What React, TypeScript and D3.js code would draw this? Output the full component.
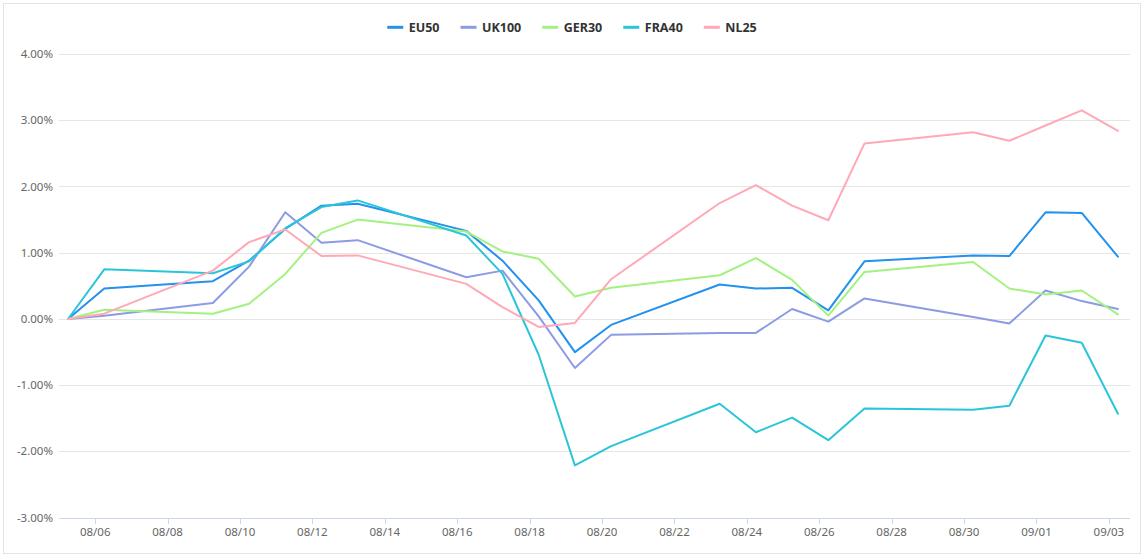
import React from "react";
import * as d3 from "d3";

const dates = [
  "2021-08-05", "2021-08-06", "2021-08-09", "2021-08-10", "2021-08-11", "2021-08-12",
  "2021-08-13", "2021-08-16", "2021-08-17", "2021-08-18", "2021-08-19", "2021-08-20",
  "2021-08-23", "2021-08-24", "2021-08-25", "2021-08-26", "2021-08-27", "2021-08-30",
  "2021-08-31", "2021-09-01", "2021-09-02", "2021-09-03",
];

const seriesNames = ["EU50", "UK100", "GER30", "FRA40", "NL25"];

const eu50 = [0, 0.46, 0.57, 0.88, 1.36, 1.71, 1.74, 1.33, 0.88, 0.28, -0.5, -0.09, 0.52, 0.46, 0.47, 0.13, 0.87, 0.96, 0.95, 1.61, 1.6, 0.94];
const uk100 = [0, 0.05, 0.24, 0.79, 1.61, 1.15, 1.19, 0.63, 0.73, 0.04, -0.74, -0.24, -0.21, -0.21, 0.15, -0.04, 0.31, 0.03, -0.07, 0.43, 0.27, 0.15];
const ger30 = [0, 0.14, 0.08, 0.23, 0.68, 1.3, 1.5, 1.32, 1.02, 0.91, 0.34, 0.47, 0.66, 0.92, 0.59, 0.05, 0.71, 0.86, 0.46, 0.37, 0.43, 0.07];
const fra40 = [0, 0.75, 0.69, 0.87, 1.37, 1.69, 1.79, 1.26, 0.68, -0.54, -2.21, -1.92, -1.28, -1.71, -1.49, -1.83, -1.35, -1.37, -1.31, -0.25, -0.36, -1.43];
const nl25 = [0, 0.08, 0.73, 1.16, 1.35, 0.95, 0.96, 0.53, 0.18, -0.12, -0.06, 0.6, 1.75, 2.02, 1.71, 1.49, 2.65, 2.82, 2.69, 2.92, 3.15, 2.84];

const seriesValues = [eu50, uk100, ger30, fra40, nl25];
const seriesColors = ["#2391ee", "#8c9be4", "#a3f281", "#2bc5d9", "#ffa9b7"];

const yTicks = [-3, -2, -1, 0, 1, 2, 3, 4];
const xTickLabels = [
  "08/06", "08/08", "08/10", "08/12", "08/14", "08/16", "08/18", "08/20",
  "08/22", "08/24", "08/26", "08/28", "08/30", "09/01", "09/03",
];

const W = 1144;
const H = 558;
const plotLeft = 59;
const plotRight = 1130;
const plotTop = 54;
const plotBottom = 517.7;

const parse = (s: string) => new Date(s);

export default function App() {
  const x = d3
    .scaleTime()
    .domain([parse("2021-08-05T00:00:00"), parse("2021-09-03T14:00:00")])
    .range([plotLeft, plotRight]);
  const y = d3.scaleLinear().domain([-3, 4]).range([plotBottom, plotTop]);

  const pointDates = dates.map((d) => parse(d + "T06:00:00"));
  const line = d3
    .line<number>()
    .x((_, i) => x(pointDates[i]))
    .y((v) => y(v));

  const tickDates = xTickLabels.map((l) => parse("2021-" + l.replace("/", "-") + "T00:00:00"));

  // legend layout
  const legendFont = "bold 12.5px 'Noto Sans', sans-serif";
  let widths: number[] = seriesNames.map((n) => n.length * 7.6);
  if (typeof document !== "undefined") {
    const ctx = document.createElement("canvas").getContext("2d");
    if (ctx) {
      ctx.font = legendFont;
      widths = seriesNames.map((n) => ctx.measureText(n).width);
    }
  }
  const iconW = 16;
  const iconGap = 5.5;
  const itemGap = 21;
  const total = widths.reduce((a, w) => a + iconW + iconGap + w, 0) + itemGap * (seriesNames.length - 1);
  let cursor = W / 2 - total / 2;
  const legendItems = seriesNames.map((n, i) => {
    const item = { name: n, x: cursor, w: widths[i], color: seriesColors[i] };
    cursor += iconW + iconGap + widths[i] + itemGap;
    return item;
  });
  const legendY = 27.3;

  return (
    <svg
      width={W}
      height={H}
      style={{ position: "absolute", left: 0, top: 0, background: "#fff" }}
      fontFamily="'Noto Sans', sans-serif"
    >
      <rect x={3.5} y={3.5} width={1137} height={550} fill="#fff" stroke="#e3e3e3" strokeWidth={1} />

      {/* gridlines */}
      {yTicks.map((t) => (
        <line
          key={t}
          x1={plotLeft}
          x2={plotRight}
          y1={Math.round(y(t)) + 0.5}
          y2={Math.round(y(t)) + 0.5}
          stroke={t === -3 ? "#ccd6eb" : "#e6e6e6"}
          strokeWidth={1}
        />
      ))}

      {/* y labels */}
      {yTicks.map((t) => (
        <text
          key={"yl" + t}
          x={53}
          y={y(t)}
          dy="0.35em"
          textAnchor="end"
          fontSize={11.5}
          fill="#666"
        >
          {t.toFixed(2) + "%"}
        </text>
      ))}

      {/* x ticks */}
      {tickDates.map((d, i) => (
        <g key={"xt" + i}>
          <line
            x1={Math.round(x(d)) + 0.5}
            x2={Math.round(x(d)) + 0.5}
            y1={Math.round(plotBottom) + 0.5}
            y2={Math.round(plotBottom) + 6}
            stroke="#ccd6eb"
          />
          <text x={x(d)} y={536} textAnchor="middle" fontSize={11.5} fill="#666">
            {xTickLabels[i]}
          </text>
        </g>
      ))}

      {/* series */}
      {seriesValues.map((vals, i) => (
        <path
          key={seriesNames[i]}
          d={line(vals) || ""}
          fill="none"
          stroke={seriesColors[i]}
          strokeWidth={2}
          strokeLinejoin="round"
          strokeLinecap="round"
        />
      ))}

      {/* legend */}
      {legendItems.map((it) => (
        <g key={"lg" + it.name}>
          <line
            x1={it.x}
            x2={it.x + iconW}
            y1={legendY}
            y2={legendY}
            stroke={it.color}
            strokeWidth={3}
          />
          <text
            x={it.x + iconW + iconGap}
            y={legendY}
            dy="0.36em"
            fontSize={12.5}
            fontWeight="bold"
            fill="#333"
            style={{ font: legendFont }}
          >
            {it.name}
          </text>
        </g>
      ))}
    </svg>
  );
}
